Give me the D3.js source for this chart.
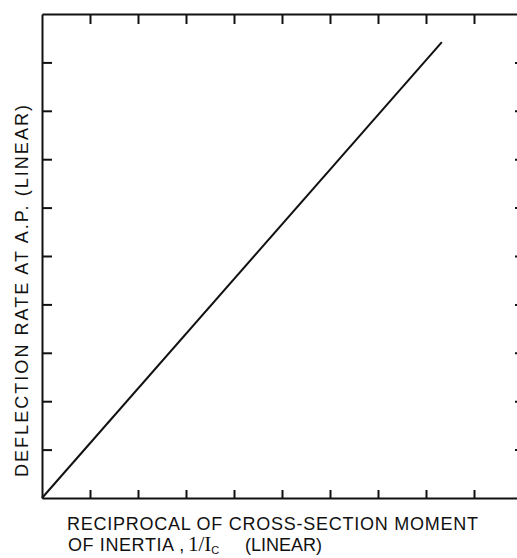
<!DOCTYPE html>
<html>
<head>
<meta charset="utf-8">
<script src="https://cdn.jsdelivr.net/npm/d3@7"></script>
<style>
  body { margin: 0; background: #fff; }
  text { font-family: "Liberation Sans", Arial, sans-serif; fill: #111; }
</style>
</head>
<body>
<div id="chart"></div>
<script>
// line (linear, arbitrary units)
var lineX = [0, 8.33];
var lineY = [0, 9.42];
var xTicks = [1, 2, 3, 4, 5, 6, 7, 8, 9];
var yTicks = [1, 2, 3, 4, 5, 6, 7, 8, 9];
var xLabel1 = "RECIPROCAL OF CROSS-SECTION MOMENT";
var yLabel = "DEFLECTION RATE AT A.P. (LINEAR)";

var width = 517, height = 558;
var margin = {top: 14, left: 42, bottom: 60, right: -5};
var w = width - margin.left - margin.right;
var h = height - margin.top - margin.bottom;

var svg = d3.select("#chart").append("svg")
    .attr("width", width)
    .attr("height", height);

var g = svg.append("g")
    .attr("transform", "translate(" + margin.left + "," + margin.top + ")");

var x = d3.scaleLinear().domain([0, 10]).range([0, w]);
var y = d3.scaleLinear().domain([0, 10]).range([h, 0]);

function styleAxis(sel) {
    sel.select(".domain").attr("stroke", "#111").attr("stroke-width", 2);
    sel.selectAll(".tick line").attr("stroke", "#111").attr("stroke-width", 2);
    sel.selectAll(".tick text").remove();
}

// inward ticks on all four sides
g.append("g")
    .attr("transform", "translate(0," + h + ")")
    .call(d3.axisBottom(x).tickValues(xTicks).tickSizeInner(-8).tickSizeOuter(0))
    .call(styleAxis);

g.append("g")
    .call(d3.axisTop(x).tickValues(xTicks).tickSizeInner(-10).tickSizeOuter(0))
    .call(styleAxis);

g.append("g")
    .call(d3.axisLeft(y).tickValues(yTicks).tickSizeInner(-10).tickSizeOuter(0))
    .call(styleAxis);

g.append("g")
    .attr("transform", "translate(" + w + ",0)")
    .call(d3.axisRight(y).tickValues(yTicks).tickSizeInner(-7).tickSizeOuter(0))
    .call(styleAxis);

var data = lineX.map(function(d, i) { return {x: d, y: lineY[i]}; });

var line = d3.line()
    .x(function(d) { return x(d.x); })
    .y(function(d) { return y(d.y); });

g.append("path")
    .datum(data)
    .attr("fill", "none")
    .attr("stroke", "#111")
    .attr("stroke-width", 2)
    .attr("d", line);

// y label
svg.append("text")
    .attr("transform", "translate(28,291) rotate(-90)")
    .attr("text-anchor", "middle")
    .attr("font-size", 18)
    .attr("textLength", 372)
    .attr("lengthAdjust", "spacing")
    .text(yLabel);

// x label, two lines
svg.append("text")
    .attr("x", 67)
    .attr("y", 530)
    .attr("font-size", 18)
    .attr("textLength", 411)
    .attr("lengthAdjust", "spacing")
    .text(xLabel1);

var t2 = svg.append("text")
    .attr("x", 68)
    .attr("y", 551)
    .attr("font-size", 18);
t2.append("tspan").attr("letter-spacing", 0.6).text("OF INERTIA ,");
t2.append("tspan")
    .attr("x", 188)
    .attr("font-family", "'Liberation Serif', serif")
    .attr("font-size", 21)
    .text("1/I");
t2.append("tspan")
    .attr("font-size", 11)
    .attr("dy", 3)
    .text("C");
t2.append("tspan")
    .attr("x", 245)
    .attr("dy", -3)
    .text("(LINEAR)");
</script>
</body>
</html>
